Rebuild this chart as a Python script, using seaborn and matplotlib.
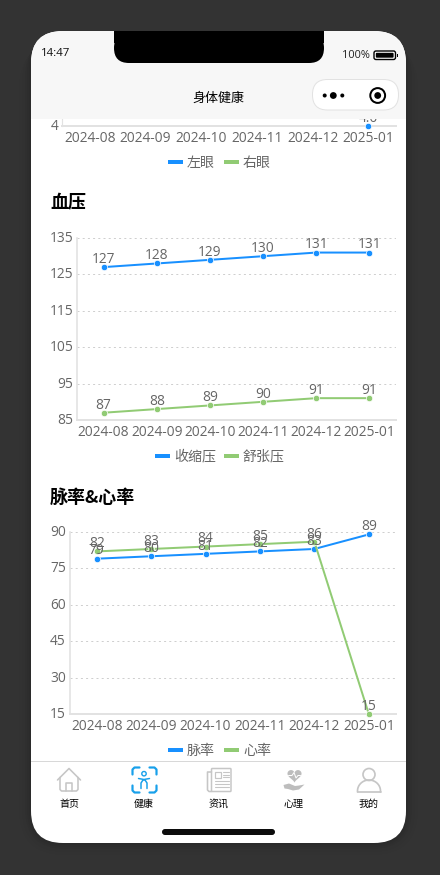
import numpy as np
import pandas as pd
import matplotlib
matplotlib.use("Agg")
import matplotlib.pyplot as plt
from matplotlib.patches import FancyBboxPatch, Rectangle, Circle, Polygon
from matplotlib.transforms import ScaledTranslation
import seaborn as sns

# ---- data ----
months = ["2024-08", "2024-09", "2024-10", "2024-11", "2024-12", "2025-01"]

left_eye = [np.nan, np.nan, np.nan, np.nan, np.nan, 4.0]
right_eye = [np.nan] * 6

systolic = [127, 128, 129, 130, 131, 131]
diastolic = [87, 88, 89, 90, 91, 91]
bp_ticks = [85, 95, 105, 115, 125, 135]

pulse = [79, 80, 81, 82, 83, 89]
heart_rate = [82, 83, 84, 85, 86, 15]
hr_ticks = [15, 30, 45, 60, 75, 90]

tab_labels = ["首页", "健康", "资讯", "心理", "我的"]

# ---- style ----
BLUE = "#1890ff"
GREEN = "#91cb74"
GREY_TEXT = "#666666"
ICON = "#c6c6c6"
ACTIVE = "#18a0ea"
W, H = 440, 875
PX = 72 / 100  # points per pixel at dpi 100

sns.set_theme(style="white")
plt.rcParams["font.family"] = ["Open Sans", "Noto Sans CJK SC", "DejaVu Sans"]
plt.rcParams["axes.unicode_minus"] = False

fig = plt.figure(figsize=(W / 100, H / 100), dpi=100, facecolor="#333333")


def page_axes(zorder):
    ax = fig.add_axes([0, 0, 1, 1], zorder=zorder)
    ax.set_xlim(0, W)
    ax.set_ylim(H, 0)
    ax.axis("off")
    ax.patch.set_alpha(0)
    return ax


def rounded(ax, x0, y0, x1, y1, r, **kw):
    p = FancyBboxPatch((x0, y0), x1 - x0, y1 - y0,
                       boxstyle=f"round,pad=0,rounding_size={r}", **kw)
    ax.add_patch(p)
    return p


back = page_axes(0)
front = page_axes(5)

# Phone body with its soft shadow, which falls towards the bottom
for grow, alpha in zip([12, 9, 6, 4, 2], [0.015, 0.02, 0.03, 0.035, 0.04]):
    rounded(back, 31 - grow, 31 + grow, 406 + grow, 843 + grow, 34 + grow,
            fc="#000000", ec="none", alpha=alpha)
body = rounded(back, 31, 31, 406, 843, 32, fc="white", ec="none")


def line_chart(box, frame, ylim, yticks, grid=True):
    """Draw one two-series chart inside a pixel box (x0, y_top, x1, y_bottom)."""
    x0, yt, x1, yb = box
    ax = fig.add_axes([x0 / W, 1 - yb / H, (x1 - x0) / W, (yb - yt) / H], zorder=2)
    ax.patch.set_alpha(0)
    sns.lineplot(data=frame, x="month", y="value", hue="series",
                 palette=[BLUE, GREEN], hue_order=list(frame["series"].unique()),
                 marker="o", markersize=6.4 * PX, markeredgecolor="white",
                 markeredgewidth=0.5, linewidth=2 * PX, sort=False,
                 errorbar=None, legend=False, ax=ax, clip_on=False, zorder=3)
    ax.set_xlim(-0.5, 5.5)
    ax.set_ylim(*ylim)
    ax.set_xticks(range(len(months)), months)
    ax.set_yticks(yticks, [str(t) for t in yticks])
    ax.set_xlabel("")
    ax.set_ylabel("")
    ax.tick_params(axis="both", length=0, labelsize=13.8 * PX, labelcolor=GREY_TEXT)
    ax.tick_params(axis="x", pad=3.4)
    ax.tick_params(axis="y", pad=2.6)
    # Lift the y tick labels a little so they sit centred on their gridlines
    lift = ScaledTranslation(0, 1.5 / 100, fig.dpi_scale_trans)
    for label in ax.get_yticklabels():
        label.set_transform(label.get_transform() + lift)
    if grid:
        ax.grid(axis="y", color="#cfcfcf", linewidth=1 * PX, linestyle=(0, (2, 3.2)))
        ax.set_axisbelow(True)
    else:
        ax.grid(False)
    for side in ("top", "right"):
        ax.spines[side].set_visible(False)
    for side in ("left", "bottom"):
        ax.spines[side].set_color("#e2e2e2")
    ax.spines["left"].set_linewidth(1.6 * PX)
    ax.spines["bottom"].set_linewidth(2 * PX)
    for _, row in frame.dropna(subset=["value"]).iterrows():
        shown = f"{row['value']:.1f}" if row["value"] < 10 else f"{row['value']:.0f}"
        ax.annotate(shown, (months.index(row["month"]), row["value"]),
                    xytext=(0, 4.2 * PX), textcoords="offset points", ha="center",
                    va="baseline", fontsize=13.8 * PX, color=GREY_TEXT,
                    annotation_clip=False, zorder=4)
    return ax


def long_frame(names, *series):
    rows = []
    for name, values in zip(names, series):
        rows += [{"month": m, "series": name, "value": v} for m, v in zip(months, values)]
    return pd.DataFrame(rows)


# Eye chart scrolled mostly beneath the navigation bar
eye_ax = line_chart((62, 40, 396, 126), long_frame(["左眼", "右眼"], left_eye, right_eye),
                    (4, 5), [4], grid=False)
eye_ax.spines["left"].set_linewidth(1.2 * PX)

line_chart((77, 238, 396, 420), long_frame(["收缩压", "舒张压"], systolic, diastolic),
           (85, 135), bp_ticks)
line_chart((69.5, 532, 396, 714), long_frame(["脉率", "心率"], pulse, heart_rate),
           (15, 90), hr_ticks)


def legend_row(y, a_x, a_label, b_x, b_label):
    for x, label, color in ((a_x, a_label, BLUE), (b_x, b_label, GREEN)):
        back.add_patch(Rectangle((x, y - 2), 15, 4, fc=color, ec="none"))
        back.text(x + 19.5, y + 1.2, label, fontsize=14 * PX, color=GREY_TEXT,
                  ha="left", va="center")


legend_row(162, 167.5, "左眼", 223.5, "右眼")
legend_row(456, 154.5, "收缩压", 223.5, "舒张压")
legend_row(750, 167.5, "脉率", 223.5, "心率")

for y, title in ((203.5, "血压"), (498, "脉率&心率")):
    back.text(50, y, title, fontsize=18 * PX, fontweight="bold", color="black",
              ha="left", va="center", family=["Noto Sans CJK SC", "DejaVu Sans"])

# Navigation bar, clipped to the rounded screen
nav = Rectangle((31, 31), 375, 88, fc="#f7f7f7", ec="none")
front.add_patch(nav)
nav.set_clip_path(body.get_path(), body.get_transform())

# Notch
front.add_patch(Rectangle((114, 31), 210, 12, fc="black", ec="none"))
rounded(front, 114, 33, 324, 63, 15, fc="black", ec="none")

front.text(41, 53.5, "14:47", fontsize=11.5 * PX, color="#111111", ha="left", va="center")
front.text(342, 55, "100%", fontsize=11 * PX, color="#222222", ha="left", va="center")
rounded(front, 374, 51, 395.5, 59.5, 2, fc="white", ec="black", lw=1.4 * PX)
rounded(front, 375.8, 52.8, 393.6, 57.7, 1, fc="black", ec="none")
front.add_patch(Rectangle((397, 53.5), 1.4, 3.5, fc="black", ec="none"))

front.text(218.5, 98, "身体健康", fontsize=13 * PX, color="black", ha="center", va="center")

# Capsule menu
rounded(front, 312.5, 79.5, 398.5, 110, 15, fc="white", ec="#e2e2e2", lw=1 * PX)
for cx, r in ((324.7, 2), (333.3, 3.4), (342.3, 2)):
    front.add_patch(Circle((cx, 95.5), r, fc="black", ec="none"))
front.add_patch(Circle((377.7, 95.5), 7.4, fc="none", ec="black", lw=2 * PX))
front.add_patch(Circle((377.7, 95.5), 3.4, fc="black", ec="none"))


# Tab bar
back.add_patch(Rectangle((31, 761), 375, 1, fc="#d8d8d8", ec="none"))
for cx, label in zip([69, 144, 219, 294, 369], tab_labels):
    back.text(cx, 804.5, label, fontsize=10 * PX, color="black", ha="center", va="center")


def stroke(xs, ys, color=ICON, lw=1.6):
    back.plot(xs, ys, color=color, lw=lw * PX, solid_capstyle="round",
              solid_joinstyle="round", clip_on=False)


# Home icon
stroke([57.5, 69, 80.5], [780, 768.5, 780])
stroke([60, 60, 61.5, 76.5, 78, 78], [777.5, 789.5, 791, 791, 789.5, 777.5])
stroke([66, 66, 72, 72], [791, 783, 783, 791])

# Body-scan icon
for sx, sy, x_c, y_c in ((1, 1, 132.5, 767.5), (-1, 1, 156.5, 767.5),
                         (1, -1, 132.5, 792.5), (-1, -1, 156.5, 792.5)):
    stroke([x_c, x_c, x_c + 2 * sx, x_c + 7 * sx],
           [y_c + 7 * sy, y_c + 2 * sy, y_c, y_c], color=ACTIVE, lw=2.2)
back.add_patch(Circle((144, 773.7), 2.2, fc="none", ec=ACTIVE, lw=1.4 * PX))
stroke([138.5, 144, 149.5], [778.5, 779.5, 778.5], color=ACTIVE, lw=1.5)
stroke([141, 141, 143, 145, 147, 147], [788.5, 783, 780, 780, 783, 788.5], color=ACTIVE, lw=1.5)

# News icon
rounded(back, 211.5, 768.5, 231, 791.5, 0.8, fc="white", ec=ICON, lw=1.5 * PX)
stroke([211.5, 207.5, 207.5, 209, 211.5], [772, 772, 790, 791.5, 791.5])
back.add_patch(Rectangle((214.5, 771.5), 6, 6, fc="none", ec=ICON, lw=1.2 * PX))
for y_row in (771.8, 774.5, 777.2):
    stroke([223, 228.5], [y_row, y_row], lw=1.1)
for y_row in (781, 784, 787):
    stroke([214.5, 228.5], [y_row, y_row], lw=1.1)

# Heart-in-hand icon
t = np.linspace(0, 2 * np.pi, 80)
back.add_patch(Polygon(np.column_stack([294.5 + 0.44 * 16 * np.sin(t) ** 3,
                                        775.3 - 0.44 * (13 * np.cos(t) - 5 * np.cos(2 * t)
                                                        - 2 * np.cos(3 * t) - np.cos(4 * t))]),
                       fc="#bdbdbd", ec="none"))
stroke([288.5, 292, 294, 296, 298, 300.5], [775.5, 775.5, 772.5, 778, 775.5, 775.5], color="white", lw=1)
back.add_patch(Polygon([(283.5, 785), (289, 783.5), (295, 786), (299, 785.5), (304.5, 784.5),
                        (299, 789.5), (293, 790.5), (288, 789), (284.5, 788.5)],
                       fc="#bdbdbd", ec="none"))

# Profile icon
back.add_patch(Circle((369, 774.5), 6, fc="none", ec=ICON, lw=1.7 * PX))
arc = np.linspace(np.pi, 2 * np.pi, 40)
stroke(np.r_[357.5, 369 + 11.5 * np.cos(arc), 380.5],
       np.r_[792, 791 + 11 * np.sin(arc), 792], lw=1.7)
stroke([357.5, 380.5], [792, 792], lw=1.7)

# Home indicator
rounded(back, 162, 829, 275, 835, 3, fc="#0c0c0c", ec="none")

fig.savefig("out.png", dpi=100, facecolor=fig.get_facecolor())
